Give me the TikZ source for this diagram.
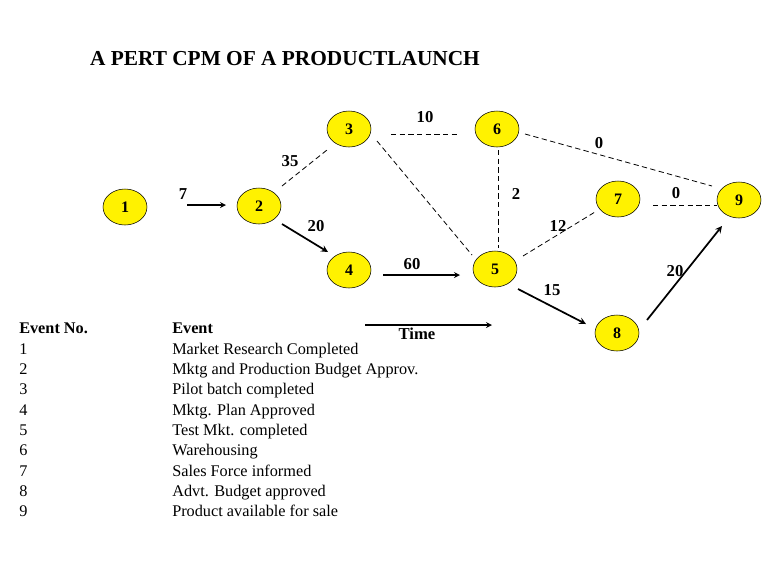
\documentclass[tikz,border=0pt]{standalone}
\usepackage{fontspec}
\setmainfont{Liberation Serif}
\usetikzlibrary{shapes.geometric}
\begin{document}
\begin{tikzpicture}[x=0.75pt,y=-0.75pt,
 ev/.style={ellipse,draw,fill=yellow,minimum width=33pt,minimum height=27pt,inner sep=0pt,font=\bfseries\fontsize{12}{13}\selectfont},
 dl/.style={dash pattern=on 4pt off 2.5pt,line width=0.6pt},
 sa/.style={->,>=stealth,line width=1pt},
 ta/.style={->,>=stealth,line width=1.3pt},
 lb/.style={font=\bfseries\fontsize{12.5}{13}\selectfont},
 tx/.style={anchor=base west,inner sep=0pt,font=\fontsize{12.2}{14}\selectfont}]
\useasboundingbox (0,0) rectangle (768,576);
\node[font=\bfseries\fontsize{16}{18}\selectfont] (title) at (285,59) {A PERT CPM OF A PRODUCTLAUNCH};
\node[ev] (n1) at (125,207) {1};
\node[ev] (n2) at (259,206) {2};
\node[ev] (n3) at (349,129) {3};
\node[ev] (n4) at (349,270) {4};
\node[ev] (n5) at (495,269) {5};
\node[ev] (n6) at (497,129) {6};
\node[ev] (n7) at (618,199) {7};
\node[ev] (n8) at (617,333) {8};
\node[ev] (n9) at (739,200) {9};
\coordinate (a1) at (187,205); \coordinate (a2) at (226,205);
\draw[sa] (a1) -- (a2);
\coordinate (b1) at (282,186); \coordinate (b2) at (327,150);
\draw[dl] (b1) -- (b2);
\coordinate (m1) at (282,224); \coordinate (m2) at (328,252);
\draw[ta] (m1) -- (m2);
\coordinate (c1) at (391,134); \coordinate (c2) at (458,134);
\draw[dl] (c1) -- (c2);
\coordinate (d1) at (377,141); \coordinate (d2) at (472,255);
\draw[dl] (d1) -- (d2);
\coordinate (e1) at (498,150); \coordinate (e2) at (498,248);
\draw[dl] (e1) -- (e2);
\coordinate (f1) at (525,134); \coordinate (f2) at (712,186);
\draw[dl] (f1) -- (f2);
\coordinate (g1) at (523,256); \coordinate (g2) at (595,212);
\draw[dl] (g1) -- (g2);
\coordinate (h1) at (653,205); \coordinate (h2) at (717,205);
\draw[dl] (h1) -- (h2);
\coordinate (i1) at (383,275); \coordinate (i2) at (460,275);
\draw[sa] (i1) -- (i2);
\coordinate (j1) at (518,289); \coordinate (j2) at (586,324);
\draw[ta] (j1) -- (j2);
\coordinate (k1) at (647,320); \coordinate (k2) at (722,226);
\draw[ta] (k1) -- (k2);
\coordinate (t1) at (365,325); \coordinate (t2) at (492,325);
\draw[sa] (t1) -- (t2);
\node[lb] at (183,194) {7};
\node[lb] at (290,161) {35};
\node[lb] at (316,226) {20};
\node[lb] at (425,117) {10};
\node[lb] at (516,194) {2};
\node[lb] at (599,143) {0};
\node[lb] at (558,226) {12};
\node[lb] at (676,193) {0};
\node[lb] at (412,264) {60};
\node[lb] at (552,290) {15};
\node[lb] at (675,271) {20};
\node[lb] at (417,334) {Time};
\node[tx,font=\bfseries\fontsize{12.2}{14}\selectfont] at (19,333) {Event No.};
\node[tx,font=\bfseries\fontsize{12.2}{14}\selectfont] at (172,333) {Event};
\foreach \n/\t [count=\i from 0] in {1/Market Research Completed,2/Mktg and Production Budget Approv.,3/Pilot batch completed,4/Mktg. Plan Approved,5/Test Mkt. completed,6/Warehousing,7/Sales Force informed,8/Advt. Budget approved,9/Product available for sale}{
 \node[tx] at (19,354+20.35*\i) {\n};
 \node[tx] at (172,354+20.35*\i) {\t};
}
\end{tikzpicture}
\end{document}
